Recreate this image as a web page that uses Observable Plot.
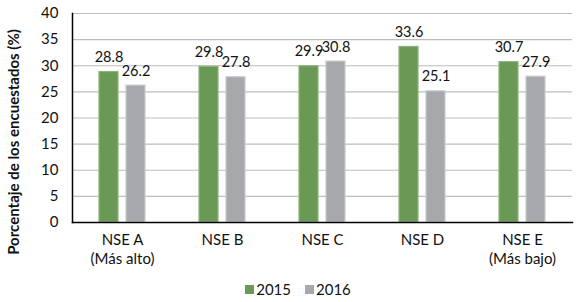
<!DOCTYPE html>
<html><head><meta charset="utf-8">
<script src="https://cdn.jsdelivr.net/npm/d3@7"></script>
<script src="https://cdn.jsdelivr.net/npm/@observablehq/plot@0.6"></script>
<style>
body{margin:0;background:#fff;font-family:Lato,"Open Sans",sans-serif;}
#legend{display:flex;justify-content:center;gap:14px;font:15px Lato,sans-serif;color:#111;margin-left:20px;margin-top:6px;}
#legend span{display:inline-flex;align-items:center;}
#legend i{display:inline-block;width:9px;height:9px;margin-right:2px;}
</style></head>
<body><div id="chart"></div>
<div id="legend"></div>
<script>
const groups = ["NSE A", "NSE B", "NSE C", "NSE D", "NSE E"];
const groupLabels = ["NSE A\n(Más alto)", "NSE B", "NSE C", "NSE D", "NSE E\n(Más bajo)"];
const years = ["2015", "2016"];
const values2015 = [28.8, 29.8, 29.9, 33.6, 30.7];
const values2016 = [26.2, 27.8, 30.8, 25.1, 27.9];
const yTicks = [0, 5, 10, 15, 20, 25, 30, 35, 40];
const yTitle = "Porcentaje de los encuestados (%)";
const colors = ["#6a9955", "#a7a8ac"];
const strokes = ["#8db37c", "#c9cacc"];

const data = [];
groups.forEach((g, i) => {
  data.push({group: g, year: years[0], value: values2015[i]});
  data.push({group: g, year: years[1], value: values2016[i]});
});
const labelMap = new Map(groups.map((g, i) => [g, groupLabels[i]]));

const plot = Plot.plot({
  width: 576,
  height: 274,
  marginLeft: 72,
  marginRight: 4,
  marginTop: 13,
  marginBottom: 52,
  style: {fontFamily: "Lato, 'Open Sans', sans-serif", fontSize: "15px", color: "#111"},
  fx: {domain: groups, padding: 0, label: null, axis: null},
  x: {domain: years, paddingInner: 0.2857, paddingOuter: 0.9286, axis: null},
  y: {domain: [0, 40], ticks: yTicks, label: null},
  color: {domain: years, range: colors},
  marks: [
    Plot.gridY(yTicks.filter(t => t > 0), {stroke: "#bdbdbd", strokeOpacity: 1, strokeWidth: 1.2}),
    Plot.axisY({ticks: yTicks, tickSize: 0, tickPadding: 14, fontSize: 15, label: null}),
    Plot.axisFx({anchor: "bottom", tickFormat: d => labelMap.get(d), tickSize: 0, tickPadding: 9, lineHeight: 1.27, fontSize: 15, label: null}),
    Plot.text([yTitle], {frameAnchor: "left", textAnchor: "middle", rotate: -90, dx: -58, dy: 24, fontSize: 15, fontWeight: "bold", fill: "#111", facet: "super"}),
    Plot.barY(data, {fx: "group", x: "year", y: "value", fill: "year", stroke: d => d.year === years[0] ? strokes[0] : strokes[1], strokeWidth: 1.2}),
    Plot.text(data, {fx: "group", x: "year", y: "value", text: d => d.value.toFixed(1), dy: -10, lineAnchor: "bottom", fontSize: 14.5, fill: "#111"}),
    Plot.frame({anchor: "bottom", stroke: "#000", strokeWidth: 1.5, facet: "super"}),
    Plot.frame({anchor: "left", stroke: "#000", strokeWidth: 1.5, facet: "super"})
  ]
});
document.getElementById("chart").appendChild(plot);

const legend = document.getElementById("legend");
years.forEach((y, i) => {
  const s = document.createElement("span");
  s.innerHTML = `<i style="background:${colors[i]}"></i>${y}`;
  legend.appendChild(s);
});
</script></body></html>
